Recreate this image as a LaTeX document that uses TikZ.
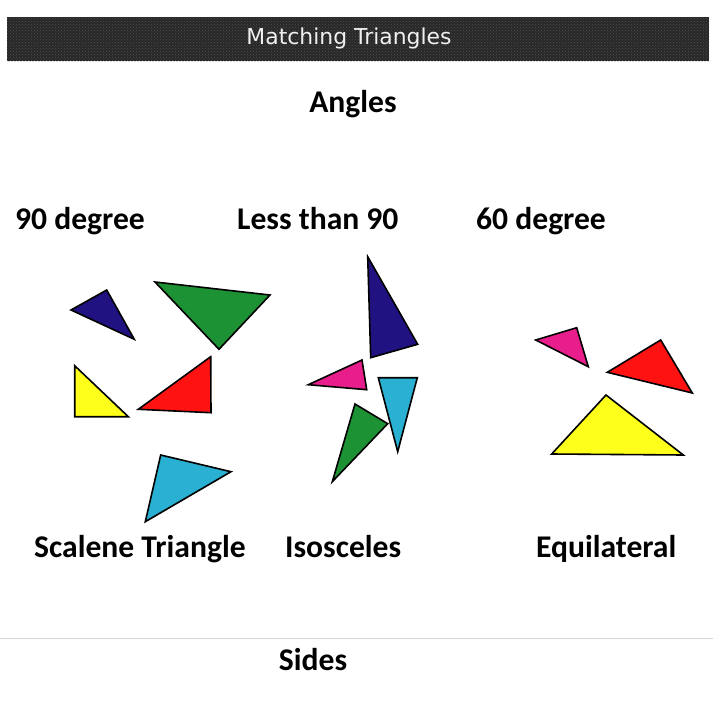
\documentclass[tikz,border=0pt]{standalone}
\usepackage{fontspec}
\usetikzlibrary{patterns}
\setmainfont{Carlito}
\newfontfamily\hdrfont{DejaVu Sans}
\begin{document}
\begin{tikzpicture}[x=1pt,y=-1pt,
  tri/.style={draw=black,line width=1.6pt,line join=miter},
  lbl/.style={font=\fontsize{31.6}{36}\selectfont\bfseries,inner sep=0pt,anchor=base west},
  ttl/.style={font=\fontsize{31.6}{36}\selectfont\bfseries,inner sep=0pt,anchor=base}]
\definecolor{tnavy}{RGB}{32,18,128}
\definecolor{tgreen}{RGB}{28,146,52}
\definecolor{tyellow}{RGB}{255,255,28}
\definecolor{tred}{RGB}{255,18,18}
\definecolor{tcyan}{RGB}{42,176,210}
\definecolor{tpink}{RGB}{232,30,140}
\definecolor{barcol}{RGB}{40,40,40}
\definecolor{bardot}{RGB}{78,78,78}
\definecolor{rulecol}{RGB}{215,215,215}
\useasboundingbox[fill=white] (0,0) rectangle (718,704);
% header bar
\fill[barcol] (7,17) rectangle (709,61);
\fill[pattern=crosshatch dots,pattern color=bardot] (7,17) rectangle (709,61);
\node[font=\hdrfont\fontsize{21.9}{26}\selectfont,text=white!94!black,inner sep=0pt,anchor=base] (hdr) at (349,44) {Matching Triangles};
% titles
\node[ttl] (angles) at (353,112) {Angles};
\node[lbl] (l90) at (15,229) {90 degree};
\node[lbl] (lless) at (237,229) {Less than 90};
\node[lbl] (l60) at (476,229) {60 degree};
\node[lbl] (lscal) at (34,557) {Scalene Triangle};
\node[lbl] (liso) at (285,557) {Isosceles};
\node[lbl] (lequi) at (536,557) {Equilateral};
\draw[rulecol,line width=1.2pt] (0,638.5) -- (713,638.5);
\node[ttl] (sides) at (313,670) {Sides};
% group 1 (90 degree / scalene)
\filldraw[tri,fill=tnavy] (71,310) -- (106.7,290) -- (134.3,339.3) -- cycle;
\filldraw[tri,fill=tgreen] (155,282) -- (270,295) -- (219,349.3) -- cycle;
\filldraw[tri,fill=tyellow] (74.7,365.7) -- (74.7,416.7) -- (128.3,416.7) -- cycle;
\filldraw[tri,fill=tred] (138.3,409.3) -- (210.7,356.7) -- (211,412.7) -- cycle;
\filldraw[tri,fill=tcyan] (160.7,455) -- (231,471.7) -- (145.3,521.7) -- cycle;
% group 2 (less than 90 / isosceles)
\filldraw[tri,fill=tnavy] (367.7,256.7) -- (417.7,344.3) -- (370.7,357.7) -- cycle;
\filldraw[tri,fill=tpink] (308.3,384.7) -- (362,360) -- (366.7,389.7) -- cycle;
\filldraw[tri,fill=tcyan] (378.3,377.7) -- (417.3,377.7) -- (397.7,451.7) -- cycle;
\filldraw[tri,fill=tgreen] (355,404) -- (387.7,423.7) -- (332.3,481.7) -- cycle;
% group 3 (60 degree / equilateral)
\filldraw[tri,fill=tpink] (535.7,340) -- (576.7,327.7) -- (588.3,366.7) -- cycle;
\filldraw[tri,fill=tred] (607.3,372.3) -- (660.7,340) -- (692.3,393) -- cycle;
\filldraw[tri,fill=tyellow] (551.7,454) -- (606,395) -- (683.3,455) -- cycle;
\end{tikzpicture}
\end{document}
